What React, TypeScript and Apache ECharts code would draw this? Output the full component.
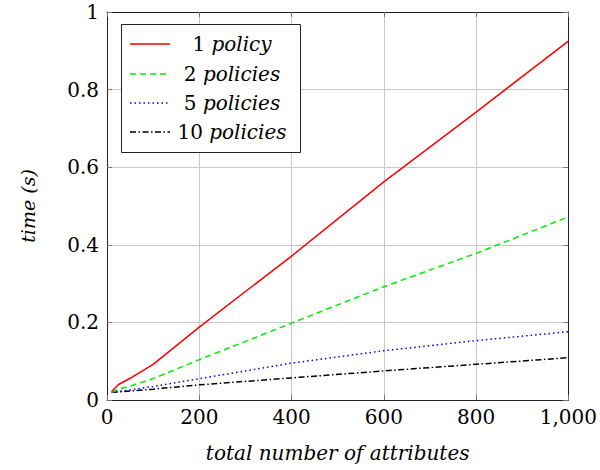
import React, { useEffect, useRef } from "react";
import * as echarts from "echarts";

const attributes = [10, 25, 50, 100, 200, 400, 600, 800, 1000];
const onePolicy = [0.022, 0.04, 0.056, 0.092, 0.188, 0.371, 0.562, 0.742, 0.925];
const twoPolicies = [0.02, 0.028, 0.036, 0.055, 0.104, 0.198, 0.292, 0.378, 0.472];
const fivePolicies = [0.02, 0.022, 0.026, 0.035, 0.055, 0.095, 0.127, 0.153, 0.176];
const tenPolicies = [0.02, 0.021, 0.023, 0.028, 0.039, 0.057, 0.075, 0.092, 0.109];

const seriesNames = ["1 policy", "2 policies", "5 policies", "10 policies"];
const seriesColors = ["#ff0000", "#00ee00", "#0000ff", "#000000"];
const seriesDashes: (number[] | "solid")[] = ["solid", [6, 4], [1.5, 3], [6, 2.5, 1.5, 2.5]];
const seriesValues = [onePolicy, twoPolicies, fivePolicies, tenPolicies];

const FONT = "DejaVu Serif";

export default function App() {
  const ref = useRef<HTMLDivElement>(null);
  useEffect(() => {
    if (!ref.current) return;
    const chart = echarts.init(ref.current, undefined, { renderer: "svg" });

    const axisCommon = {
      type: "value" as const,
      axisLine: { show: true, onZero: false, lineStyle: { color: "#222", width: 1 } },
      axisTick: { show: true, inside: true, length: 5, lineStyle: { color: "#777" } },
    };

    const legendRows = [44, 74, 103, 132];
    const legendGraphics: any[] = [
      {
        type: "rect",
        shape: { x: 121.5, y: 24.5, width: 179, height: 128 },
        style: { fill: "#fff", stroke: "#222", lineWidth: 1 },
        z: 100,
      },
    ];
    seriesNames.forEach((name, i) => {
      const [num, word] = name.split(" ");
      legendGraphics.push({
        type: "line",
        shape: { x1: 130, y1: legendRows[i], x2: 170, y2: legendRows[i] },
        style: {
          stroke: seriesColors[i],
          lineWidth: 1.5,
          lineDash: seriesDashes[i] === "solid" ? null : seriesDashes[i],
        },
        z: 101,
      });
      legendGraphics.push({
        type: "text",
        x: 232,
        y: legendRows[i],
        style: {
          text: `{n|${num}} {i|${word}}`,
          align: "center",
          verticalAlign: "middle",
          fill: "#000",
          rich: {
            n: { fontFamily: FONT, fontSize: 20, fontStyle: "normal", fill: "#000" },
            i: { fontFamily: FONT, fontSize: 20, fontStyle: "italic", fill: "#000" },
          },
          fontFamily: FONT,
          fontSize: 20,
        },
        z: 101,
      });
    });

    chart.setOption({
      animation: false,
      backgroundColor: "#fff",
      textStyle: { fontFamily: FONT },
      grid: { left: 107, right: 27, top: 12, bottom: 70, containLabel: false },
      xAxis: [
        {
          ...axisCommon,
          position: "bottom",
          min: 0,
          max: 1000,
          interval: 200,
          name: "total number of attributes",
          nameLocation: "middle",
          nameGap: 43,
          nameTextStyle: { fontFamily: FONT, fontSize: 20, fontStyle: "italic", color: "#000" },
          axisLabel: {
            margin: 7,
            fontFamily: FONT,
            fontSize: 20,
            color: "#000",
            formatter: (v: number) => (v >= 1000 ? v.toLocaleString("en-US") : String(v)),
          },
          splitLine: { show: true, lineStyle: { color: "#c8c8c8", width: 1 } },
        },
        {
          ...axisCommon,
          position: "top",
          min: 0,
          max: 1000,
          interval: 200,
          axisLabel: { show: false },
          splitLine: { show: false },
        },
      ],
      yAxis: [
        {
          ...axisCommon,
          position: "left",
          min: 0,
          max: 1,
          interval: 0.2,
          name: "time (s)",
          nameLocation: "middle",
          nameGap: 70,
          nameRotate: 90,
          nameTextStyle: { fontFamily: FONT, fontSize: 19, fontStyle: "italic", color: "#000" },
          axisLabel: {
            margin: 8,
            fontFamily: FONT,
            fontSize: 20,
            color: "#000",
            formatter: (v: number) => String(Math.round(v * 10) / 10),
          },
          splitLine: { show: true, lineStyle: { color: "#c8c8c8", width: 1 } },
        },
        {
          ...axisCommon,
          position: "right",
          min: 0,
          max: 1,
          interval: 0.2,
          axisLabel: { show: false },
          splitLine: { show: false },
        },
      ],
      series: seriesNames.map((name, i) => ({
        name,
        type: "line",
        xAxisIndex: 0,
        yAxisIndex: 0,
        symbol: "none",
        smooth: false,
        data: attributes.map((x, k) => [x, seriesValues[i][k]]),
        lineStyle: { color: seriesColors[i], width: 1.5, type: seriesDashes[i] },
        itemStyle: { color: seriesColors[i] },
        z: 10 - i,
      })),
      graphic: legendGraphics,
    });
    return () => chart.dispose();
  }, []);
  return (
    <div
      ref={ref}
      style={{ position: "absolute", left: 0, top: 0, width: 600, height: 470 }}
    />
  );
}
